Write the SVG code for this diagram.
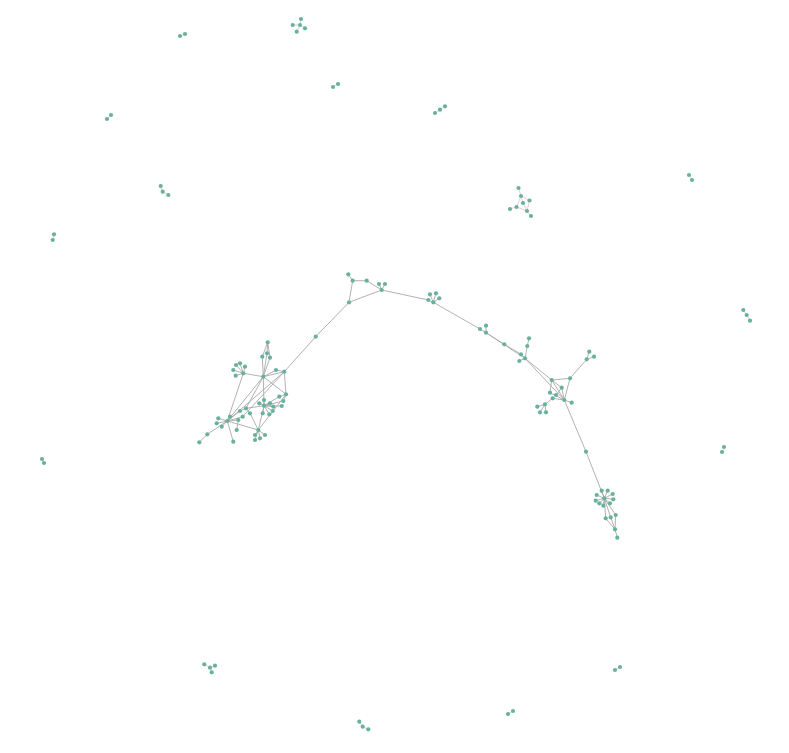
<svg xmlns="http://www.w3.org/2000/svg" width="789" height="753" viewBox="0 0 789 753">
<style>
.e line{stroke:#a9a9a9;stroke-width:0.9;fill:none}
.f line{stroke:#dcc3ca;stroke-width:0.8;fill:none}
.n circle{fill:#68b19d;r:2.1px}
</style>
<rect width="789" height="753" fill="#ffffff"/>
<g id="connectors">
<g class="e">
<!-- left cluster -->
<line x1="267.7" y1="342.3" x2="262.3" y2="356.7"/>
<line x1="267.7" y1="342.3" x2="270" y2="357.7"/>
<line x1="267.7" y1="342.3" x2="267" y2="353.3"/>
<line x1="262.3" y1="356.7" x2="263.3" y2="376.7"/>
<line x1="270" y1="357.7" x2="263.3" y2="376.7"/>
<line x1="267" y1="353.3" x2="263.3" y2="376.7"/>
<line x1="243.3" y1="373.3" x2="263.3" y2="376.7"/>
<line x1="243.3" y1="373.3" x2="233.3" y2="370"/>
<line x1="243.3" y1="373.3" x2="236" y2="365"/>
<line x1="243.3" y1="373.3" x2="240" y2="363.3"/>
<line x1="243.3" y1="373.3" x2="245" y2="366.7"/>
<line x1="243.3" y1="373.3" x2="235.7" y2="375.7"/>
<line x1="263.3" y1="376.7" x2="276" y2="370"/>
<line x1="276" y1="370" x2="284.3" y2="371.7"/>
<line x1="263.3" y1="376.7" x2="284.3" y2="371.7"/>
<line x1="284.3" y1="371.7" x2="286" y2="394.3"/>
<line x1="286" y1="394.3" x2="279.3" y2="396.7"/>
<line x1="286" y1="394.3" x2="283.3" y2="401"/>
<line x1="263.3" y1="376.7" x2="286" y2="394.3"/>
<line x1="263.3" y1="376.7" x2="264" y2="405.7"/>
<line x1="263.3" y1="376.7" x2="227.3" y2="421"/>
<line x1="263.3" y1="376.7" x2="246" y2="408.3"/>
<line x1="243.3" y1="373.3" x2="227.3" y2="421"/>
<line x1="284.3" y1="371.7" x2="227.3" y2="421"/>
<line x1="284.3" y1="371.7" x2="242.7" y2="416.7"/>
<line x1="264" y1="405.7" x2="264" y2="400"/>
<line x1="264" y1="405.7" x2="259.3" y2="403.3"/>
<line x1="264" y1="405.7" x2="270" y2="403.3"/>
<line x1="264" y1="405.7" x2="273.3" y2="406.7"/>
<line x1="264" y1="405.7" x2="272.7" y2="411"/>
<line x1="264" y1="405.7" x2="269.3" y2="414.3"/>
<line x1="264" y1="405.7" x2="262.7" y2="413.3"/>
<line x1="264" y1="405.7" x2="281.7" y2="406"/>
<line x1="264" y1="405.7" x2="279.3" y2="396.7"/>
<line x1="264" y1="405.7" x2="283.3" y2="401"/>
<line x1="264" y1="405.7" x2="246" y2="408.3"/>
<line x1="246" y1="408.3" x2="240" y2="411"/>
<line x1="246" y1="408.3" x2="250" y2="413.3"/>
<line x1="227.3" y1="421" x2="240" y2="411"/>
<line x1="227.3" y1="421" x2="242.7" y2="416.7"/>
<line x1="227.3" y1="421" x2="238.3" y2="420"/>
<line x1="238.3" y1="420" x2="236.7" y2="430"/>
<line x1="227.3" y1="421" x2="233.3" y2="441.7"/>
<line x1="227.3" y1="421" x2="218.3" y2="418.3"/>
<line x1="227.3" y1="421" x2="216.7" y2="423.3"/>
<line x1="227.3" y1="421" x2="221.7" y2="426.7"/>
<line x1="227.3" y1="421" x2="230" y2="416.7"/>
<line x1="227.3" y1="421" x2="258.3" y2="430"/>
<line x1="264" y1="405.7" x2="258.3" y2="430"/>
<line x1="286" y1="394.3" x2="258.3" y2="430"/>
<line x1="250" y1="413.3" x2="258.3" y2="430"/>
<line x1="258.3" y1="430" x2="255" y2="435"/>
<line x1="258.3" y1="430" x2="260" y2="438.3"/>
<line x1="258.3" y1="430" x2="265" y2="435"/>
<line x1="258.3" y1="430" x2="255" y2="440"/>
<line x1="227.3" y1="421" x2="207.3" y2="434.3"/>
<line x1="207.3" y1="434.3" x2="199.3" y2="442.3"/>
<!-- arc -->
<line x1="284.3" y1="371.7" x2="315.7" y2="336.7"/>
<line x1="315.7" y1="336.7" x2="349" y2="302.3"/>
<line x1="349" y1="302.3" x2="352.7" y2="280.7"/>
<line x1="348.3" y1="274.3" x2="352.7" y2="280.7"/>
<line x1="352.7" y1="280.7" x2="366.7" y2="280.7"/>
<line x1="366.7" y1="280.7" x2="381.7" y2="290"/>
<line x1="349" y1="302.3" x2="381.7" y2="290"/>
<line x1="381.7" y1="290" x2="379" y2="284"/>
<line x1="381.7" y1="290" x2="385" y2="284"/>
<line x1="381.7" y1="290" x2="428.3" y2="300"/>
<line x1="428.3" y1="300" x2="433.3" y2="302.3"/>
<line x1="433.3" y1="302.3" x2="430" y2="294.3"/>
<line x1="433.3" y1="302.3" x2="436" y2="293.3"/>
<line x1="433.3" y1="302.3" x2="439.3" y2="298.3"/>
<line x1="433.3" y1="302.3" x2="480" y2="329"/>
<line x1="480" y1="329" x2="486" y2="332.7"/>
<line x1="486" y1="332.7" x2="486" y2="325.7"/>
<line x1="486" y1="332.7" x2="504.3" y2="344.3"/>
<line x1="504.3" y1="344.3" x2="521" y2="354.3"/>
<line x1="521" y1="354.3" x2="525" y2="358.3"/>
<line x1="525" y1="358.3" x2="527.3" y2="346"/>
<line x1="527.3" y1="346" x2="529" y2="338.3"/>
<line x1="525" y1="358.3" x2="519.3" y2="361"/>
<line x1="486" y1="332.7" x2="525" y2="358.3"/>
<!-- right cluster -->
<line x1="525" y1="358.3" x2="551.7" y2="380"/>
<line x1="525" y1="358.3" x2="564.3" y2="400"/>
<line x1="551.7" y1="380" x2="570" y2="378.3"/>
<line x1="570" y1="378.3" x2="586.7" y2="359.3"/>
<line x1="586.7" y1="359.3" x2="589.3" y2="351.7"/>
<line x1="586.7" y1="359.3" x2="594" y2="356.7"/>
<line x1="570" y1="378.3" x2="564.3" y2="400"/>
<line x1="551.7" y1="380" x2="561.7" y2="387.7"/>
<line x1="551.7" y1="380" x2="564.3" y2="400"/>
<line x1="551.7" y1="380" x2="550" y2="392.7"/>
<line x1="561.7" y1="387.7" x2="564.3" y2="400"/>
<line x1="556" y1="395" x2="561.7" y2="387.7"/>
<line x1="550" y1="392.7" x2="564.3" y2="400"/>
<line x1="552.7" y1="398.3" x2="564.3" y2="400"/>
<line x1="564.3" y1="400" x2="571.7" y2="402.7"/>
<line x1="545" y1="404.3" x2="552.7" y2="398.3"/>
<line x1="545" y1="404.3" x2="537.3" y2="406.7"/>
<line x1="545" y1="404.3" x2="540" y2="412.3"/>
<line x1="545" y1="404.3" x2="546" y2="412.3"/>
<line x1="564.3" y1="400" x2="586" y2="451.7"/>
<!-- bottom right -->
<line x1="586" y1="451.7" x2="604.3" y2="498.3"/>
<line x1="604.3" y1="498.3" x2="601.7" y2="490.7"/>
<line x1="604.3" y1="498.3" x2="607.7" y2="490.7"/>
<line x1="604.3" y1="498.3" x2="612.7" y2="494"/>
<line x1="604.3" y1="498.3" x2="596.7" y2="495"/>
<line x1="604.3" y1="498.3" x2="595.7" y2="500.7"/>
<line x1="604.3" y1="498.3" x2="599.3" y2="503.3"/>
<line x1="604.3" y1="498.3" x2="603.3" y2="505.7"/>
<line x1="604.3" y1="498.3" x2="610" y2="503.3"/>
<line x1="604.3" y1="498.3" x2="613.3" y2="499.3"/>
<line x1="604.3" y1="498.3" x2="605.7" y2="518.3"/>
<line x1="604.3" y1="498.3" x2="610.7" y2="517.3"/>
<line x1="604.3" y1="498.3" x2="615.7" y2="515"/>
<line x1="605.7" y1="518.3" x2="615" y2="529.3"/>
<line x1="610.7" y1="517.3" x2="615" y2="529.3"/>
<line x1="615.7" y1="515" x2="615" y2="529.3"/>
<line x1="615" y1="529.3" x2="617.3" y2="537.7"/>
</g>
<g class="f">
<line x1="301" y1="19" x2="300" y2="25"/>
<line x1="292.7" y1="25" x2="300" y2="25"/>
<line x1="296.7" y1="31.7" x2="300" y2="25"/>
<line x1="305" y1="28.3" x2="300" y2="25"/>
<line x1="518.5" y1="188" x2="521" y2="196"/>
<line x1="521" y1="196" x2="529.5" y2="200.5"/>
<line x1="521" y1="196" x2="516.5" y2="207"/>
<line x1="521" y1="196" x2="523" y2="203"/>
<line x1="529.5" y1="200.5" x2="527" y2="211"/>
<line x1="516.5" y1="207" x2="527" y2="211"/>
<line x1="523" y1="203" x2="527" y2="211"/>
<line x1="516.5" y1="207" x2="510" y2="209"/>
<line x1="527" y1="211" x2="531" y2="216"/>
<line x1="160.7" y1="186" x2="162.7" y2="191.7"/>
<line x1="162.7" y1="191.7" x2="168.3" y2="195"/>
<line x1="204.3" y1="664.3" x2="210" y2="667.7"/>
<line x1="215" y1="665.7" x2="210" y2="667.7"/>
<line x1="211.7" y1="672.3" x2="210" y2="667.7"/>
<line x1="359.3" y1="721.7" x2="362.7" y2="726.7"/>
<line x1="362.7" y1="726.7" x2="368.3" y2="729.3"/>
<line x1="743.3" y1="310" x2="746.7" y2="315"/>
<line x1="746.7" y1="315" x2="750" y2="320.7"/>
<line x1="435" y1="113" x2="440" y2="109.7"/>
<line x1="440" y1="109.7" x2="445" y2="106.3"/>
<line x1="54" y1="234.3" x2="52.7" y2="240"/>
<line x1="180" y1="36" x2="185" y2="34"/>
<line x1="333" y1="87" x2="338" y2="84"/>
<line x1="107" y1="119" x2="111" y2="115"/>
<line x1="689" y1="175" x2="692" y2="180"/>
<line x1="42" y1="459" x2="44" y2="463"/>
<line x1="722" y1="452" x2="724" y2="447"/>
<line x1="615" y1="670" x2="620" y2="667"/>
<line x1="508" y1="714" x2="513" y2="711"/>
</g>
</g>
<g id="left-cluster" class="n">
<circle cx="267.7" cy="342.3"/><circle cx="262.3" cy="356.7"/><circle cx="267" cy="353.3"/><circle cx="270" cy="357.7"/>
<circle cx="263.3" cy="376.7"/><circle cx="243.3" cy="373.3"/><circle cx="233.3" cy="370"/><circle cx="236" cy="365"/>
<circle cx="240" cy="363.3"/><circle cx="245" cy="366.7"/><circle cx="235.7" cy="375.7"/><circle cx="276" cy="370"/>
<circle cx="284.3" cy="371.7"/><circle cx="286" cy="394.3"/><circle cx="279.3" cy="396.7"/><circle cx="283.3" cy="401"/>
<circle cx="264" cy="405.7"/><circle cx="264" cy="400"/><circle cx="259.3" cy="403.3"/><circle cx="270" cy="403.3"/>
<circle cx="273.3" cy="406.7"/><circle cx="272.7" cy="411"/><circle cx="269.3" cy="414.3"/><circle cx="262.7" cy="413.3"/>
<circle cx="281.7" cy="406"/><circle cx="246" cy="408.3"/><circle cx="240" cy="411"/><circle cx="250" cy="413.3"/>
<circle cx="242.7" cy="416.7"/><circle cx="238.3" cy="420"/><circle cx="227.3" cy="421"/><circle cx="218.3" cy="418.3"/>
<circle cx="216.7" cy="423.3"/><circle cx="221.7" cy="426.7"/><circle cx="230" cy="416.7"/><circle cx="236.7" cy="430"/>
<circle cx="233.3" cy="441.7"/><circle cx="258.3" cy="430"/><circle cx="255" cy="435"/><circle cx="260" cy="438.3"/>
<circle cx="265" cy="435"/><circle cx="255" cy="440"/><circle cx="207.3" cy="434.3"/><circle cx="199.3" cy="442.3"/>
</g>
<g id="arc" class="n">
<circle cx="315.7" cy="336.7"/><circle cx="349" cy="302.3"/><circle cx="348.3" cy="274.3"/><circle cx="352.7" cy="280.7"/>
<circle cx="366.7" cy="280.7"/><circle cx="381.7" cy="290"/><circle cx="379" cy="284"/><circle cx="385" cy="284"/>
<circle cx="428.3" cy="300"/><circle cx="433.3" cy="302.3"/><circle cx="430" cy="294.3"/><circle cx="436" cy="293.3"/>
<circle cx="439.3" cy="298.3"/><circle cx="480" cy="329"/><circle cx="486" cy="325.7"/><circle cx="486" cy="332.7"/>
<circle cx="504.3" cy="344.3"/><circle cx="529" cy="338.3"/><circle cx="527.3" cy="346"/><circle cx="521" cy="354.3"/>
<circle cx="525" cy="358.3"/><circle cx="519.3" cy="361"/>
</g>
<g id="right-cluster" class="n">
<circle cx="551.7" cy="380"/><circle cx="570" cy="378.3"/><circle cx="586.7" cy="359.3"/><circle cx="589.3" cy="351.7"/>
<circle cx="594" cy="356.7"/><circle cx="561.7" cy="387.7"/><circle cx="550" cy="392.7"/><circle cx="556" cy="395"/>
<circle cx="552.7" cy="398.3"/><circle cx="564.3" cy="400"/><circle cx="571.7" cy="402.7"/><circle cx="545" cy="404.3"/>
<circle cx="537.3" cy="406.7"/><circle cx="540" cy="412.3"/><circle cx="546" cy="412.3"/><circle cx="586" cy="451.7"/>
</g>
<g id="bottom-right-cluster" class="n">
<circle cx="604.3" cy="498.3"/><circle cx="601.7" cy="490.7"/><circle cx="607.7" cy="490.7"/><circle cx="612.7" cy="494"/>
<circle cx="596.7" cy="495"/><circle cx="595.7" cy="500.7"/><circle cx="599.3" cy="503.3"/><circle cx="603.3" cy="505.7"/>
<circle cx="610" cy="503.3"/><circle cx="613.3" cy="499.3"/><circle cx="605.7" cy="518.3"/><circle cx="610.7" cy="517.3"/>
<circle cx="615.7" cy="515"/><circle cx="615" cy="529.3"/><circle cx="617.3" cy="537.7"/>
</g>
<g id="small-components" class="n">
<circle cx="301" cy="19"/><circle cx="292.7" cy="25"/><circle cx="300" cy="25"/><circle cx="296.7" cy="31.7"/><circle cx="305" cy="28.3"/>
<circle cx="518.5" cy="188"/><circle cx="521" cy="196"/><circle cx="529.5" cy="200.5"/><circle cx="523" cy="203"/>
<circle cx="516.5" cy="207"/><circle cx="510" cy="209"/><circle cx="527" cy="211"/><circle cx="531" cy="216"/>
<circle cx="160.7" cy="186"/><circle cx="162.7" cy="191.7"/><circle cx="168.3" cy="195"/>
<circle cx="204.3" cy="664.3"/><circle cx="210" cy="667.7"/><circle cx="215" cy="665.7"/><circle cx="211.7" cy="672.3"/>
<circle cx="359.3" cy="721.7"/><circle cx="362.7" cy="726.7"/><circle cx="368.3" cy="729.3"/>
<circle cx="743.3" cy="310"/><circle cx="746.7" cy="315"/><circle cx="750" cy="320.7"/>
<circle cx="435" cy="113"/><circle cx="440" cy="109.7"/><circle cx="445" cy="106.3"/>
<circle cx="54" cy="234.3"/><circle cx="52.7" cy="240"/>
<circle cx="180" cy="36"/><circle cx="185" cy="34"/>
<circle cx="333" cy="87"/><circle cx="338" cy="84"/>
<circle cx="107" cy="119"/><circle cx="111" cy="115"/>
<circle cx="689" cy="175"/><circle cx="692" cy="180"/>
<circle cx="42" cy="459"/><circle cx="44" cy="463"/>
<circle cx="722" cy="452"/><circle cx="724" cy="447"/>
<circle cx="615" cy="670"/><circle cx="620" cy="667"/>
<circle cx="508" cy="714"/><circle cx="513" cy="711"/>
</g>
</svg>
